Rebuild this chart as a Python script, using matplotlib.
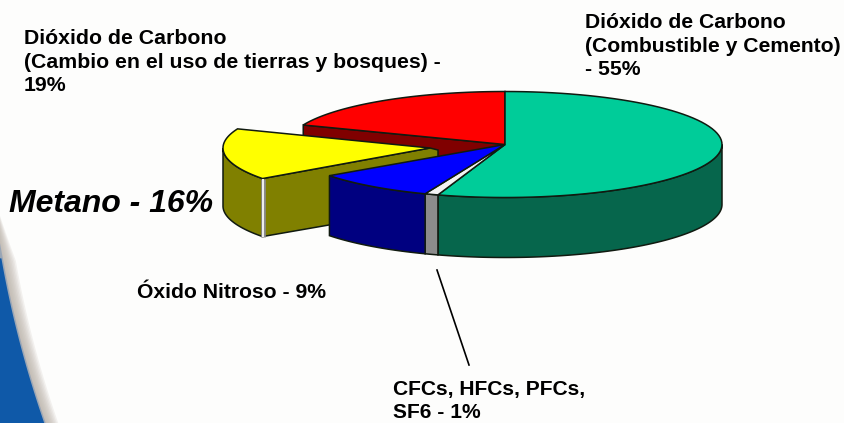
import matplotlib
matplotlib.use("Agg")
import matplotlib.pyplot as plt
import numpy as np

plt.rcParams['font.family'] = ['Liberation Sans', 'DejaVu Sans']

# share of each gas, clockwise from 12 o'clock
names = ["co2_fuel", "cfc", "n2o", "ch4", "co2_land"]
shares = [55, 1, 9, 16, 19]
top_colors = ["#00cc99", "#f4f4f4", "#0000ff", "#ffff00", "#ff0000"]
wall_colors = ["#06664c", "#8c8c8c", "#000080", "#808000", "#800000"]

labels = [
    "Dióxido de Carbono\n(Combustible y Cemento)\n- 55%",
    "CFCs, HFCs, PFCs,\nSF6 - 1%",
    "Óxido Nitroso - 9%",
    "Dióxido de Carbono\n(Cambio en el uso de tierras y bosques) -\n19%",
]

CX, CY, RX, RY, DEPTH = 505, 144.5, 217, 53, 60
EDGE = "#101a10"
LW = 1.1


def arc(t1, t2, cx=CX, cy=CY, rx=RX, ry=RY):
    t = np.radians(np.linspace(t1, t2, 80))
    return cx + rx * np.sin(t), cy - ry * np.cos(t)


def top(ax, t1, t2, color, cx=CX, cy=CY, rx=RX, ry=RY):
    x, y = arc(t1, t2, cx, cy, rx, ry)
    ax.fill(np.r_[cx, x], np.r_[cy, y], fc=color, ec=EDGE, lw=LW)


def wall(ax, t1, t2, color, cx=CX, cy=CY, rx=RX, ry=RY, d=DEPTH):
    x, y = arc(t1, t2, cx, cy, rx, ry)
    ax.fill(np.r_[x, x[::-1]], np.r_[y, y[::-1] + d], fc=color, ec=EDGE, lw=LW)


fig = plt.figure(figsize=(8.44, 4.23), dpi=100, facecolor="#fdfdfc")
ax = fig.add_axes([0, 0, 1, 1])
ax.set_xlim(0, 844)
ax.set_ylim(423, 0)
ax.axis("off")

# background swoosh, bottom left
sy = np.array([205, 263, 317, 367, 423])
sx = np.array([-6, 0, 13, 28, 43])
yy = np.linspace(190, 423, 80)
xx = np.polyval(np.polyfit(sy, sx, 2), yy)
fade = np.clip((yy - 190) / 70, 0, 1)
for off in np.arange(14, 0, -1.5):
    ax.fill_betweenx(yy, -5, xx + off * fade, color="#b9b0a6", alpha=0.16, lw=0)
ax.fill_betweenx(yy, -5, xx + 1.5 * fade, color="#7f98b8", alpha=0.6, lw=0)
ax.fill_betweenx(yy[yy >= 255], -5, xx[yy >= 255], color="#0f59a8", lw=0)

edges = np.cumsum([0] + shares) * 3.6
(g0, g1), (c0, c1), (b0, b1), (y0, y1), (r0, r1) = zip(edges[:-1], edges[1:])

# red cut face, then the pulled out yellow slice over it
x_r, y_r = arc(r0, r0)
ax.fill([x_r[0], CX, CX, x_r[0]], [y_r[0], CY, CY + DEPTH, y_r[0] + DEPTH],
        fc=wall_colors[4], ec=EDGE, lw=LW)
top(ax, r0, r1, top_colors[4])

YCX, YCY, YRX, YRY, YD = 430, 148, 207, 52, 58
wall(ax, y0, 270, wall_colors[3], YCX, YCY, YRX, YRY, YD)
x_c, y_c = arc(y0, y0, YCX, YCY, YRX, YRY)
ax.fill([x_c[0], YCX, YCX + 8, YCX + 8, x_c[0]],
        [y_c[0], YCY, YCY + 2, YCY + YD, y_c[0] + YD],
        fc=wall_colors[3], ec=EDGE, lw=LW)
ax.plot([x_c[0], x_c[0]], [y_c[0], y_c[0] + YD], color="#8a8a8a", lw=3.4, solid_capstyle="butt")
ax.plot([x_c[0], x_c[0]], [y_c[0], y_c[0] + YD], color="#f0f0f0", lw=1.4, solid_capstyle="butt")
top(ax, y0, y1, top_colors[3], YCX, YCY, YRX, YRY)

# main body
wall(ax, 90, g1, wall_colors[0])
wall(ax, c0, c1, wall_colors[1])
wall(ax, b0, b1, wall_colors[2])
top(ax, g0, g1, top_colors[0])
top(ax, c0, c1, top_colors[1])
top(ax, b0, b1, top_colors[2])

# labels
ax.text(585, 46, labels[0], fontsize=15.2, fontweight="bold", va="center", linespacing=1.31)
ax.text(393, 401, labels[1], fontsize=15.1, fontweight="bold", va="center", linespacing=1.31)
ax.text(137, 293, labels[2], fontsize=15.2, fontweight="bold", va="center")
ax.text(24, 62, labels[3], fontsize=15.3, fontweight="bold", va="center", linespacing=1.31)
ax.text(9, 204, "Metano - 16%", fontsize=23, fontweight="bold", style="italic", va="center")
ax.plot([437, 469], [270, 365], color="black", lw=1.2)

fig.savefig("out.png", dpi=100, facecolor=fig.get_facecolor())
